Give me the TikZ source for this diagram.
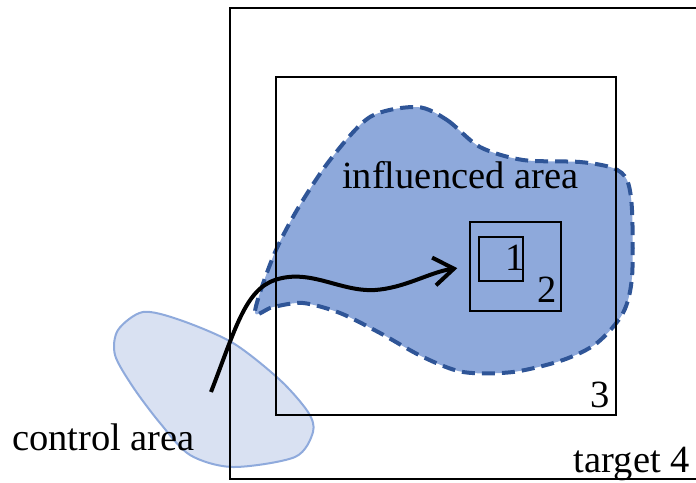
\documentclass[tikz,border=0pt]{standalone}
\usepackage{fontspec}
\setmainfont{Liberation Serif}
\usetikzlibrary{positioning,arrows.meta}
\definecolor{ctrlfill}{HTML}{D9E1F2}
\definecolor{ctrlline}{HTML}{8FAADC}
\definecolor{inflfill}{HTML}{8EA9DB}
\definecolor{inflline}{HTML}{2F5597}
\tikzset{
box/.style={
draw,
line width=1.6pt,
inner sep=0pt,
minimum width=#1
},
ctrlregion/.style={
fill=ctrlfill,
draw=ctrlline,
line width=2pt
},
inflregion/.style={
fill=inflfill,
draw=inflline,
line width=4pt,
dash pattern=on 13pt off 7pt
},
lbl/.style={
inner sep=0pt,
font=\fontsize{38.5}{40}\selectfont
},
flow/.style={
-{Straight Barb[length=20pt,width=28pt]},
line width=4pt
}
}

\begin{document}
\begin{tikzpicture}[x=1pt,y=-1pt]
\useasboundingbox (0,0) rectangle (696,482);
\clip (0,0) rectangle (696,482);

% regions
\draw[ctrlregion] plot[smooth cycle] coordinates {(143,312) (180,320) (233,343) (280,380) (308,412) (313,432) (295,457) (233,467) (190,455) (160,423) (133,387) (115,355) (118,330)};
\draw[inflregion] plot[smooth cycle] coordinates {(417,107) (447,120) (480,147) (523,160) (580,162) (613,168) (627,180) (632,210) (632,277) (623,313) (597,343) (563,360) (513,372) (463,372) (423,357) (380,333) (340,313) (303,303) (273,307) (255,312) (273,257) (297,210) (330,160) (370,117)};

% targets
\node[box=500pt,minimum height=471pt,anchor=north west] (b4) at (229,7) {};
\node[box=340pt,minimum height=338pt] (b3) at (446,246) {};
\node[box=91pt,minimum height=89pt] (b2) at (515.5,266.5) {};
\node[box=44pt,minimum height=44pt] (b1) at (501,259) {};

\node[lbl,anchor=base] (n1) at (515,270) {1};
\node[lbl,anchor=base] (n2) at (547,302) {2};
\node[lbl,anchor=base] (n3) at (600,407) {3};
\node[lbl,anchor=base east] (n4) at (690,472) {target 4};
\node[lbl,anchor=base west] (infl) at (342,188) {influenced area};
\node[lbl,anchor=base west] (ctrl) at (12,450) {control area};

\coordinate (src) at (211,392);
\draw[flow,shorten >=12pt] (src) .. controls (235,330) and (245,290) .. (275,280) .. controls (310,268) and (340,292) .. (375,290) .. controls (405,288) and (430,272) .. (b2.west);
\end{tikzpicture}
\end{document}
